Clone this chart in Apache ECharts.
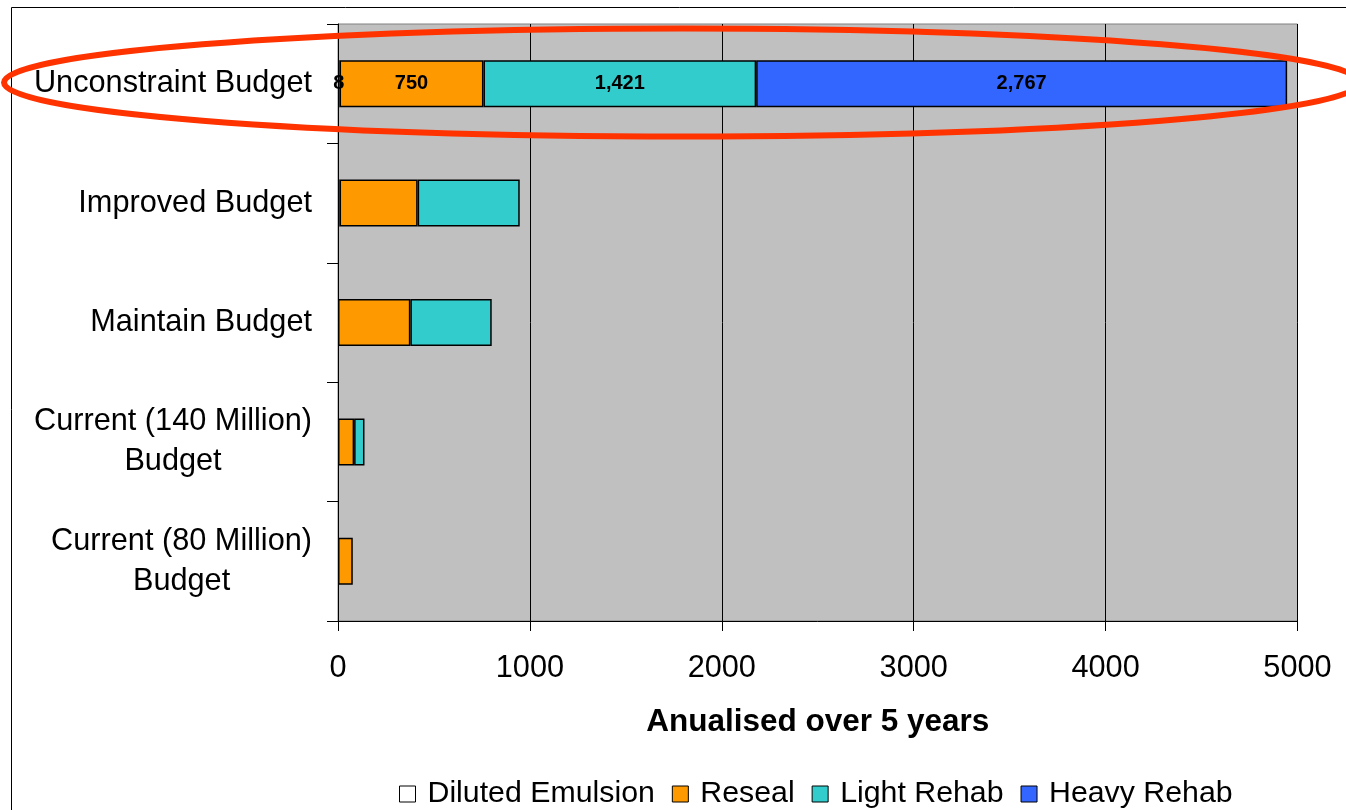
<!DOCTYPE html>
<html>
<head>
<meta charset="utf-8">
<script src="https://cdn.jsdelivr.net/npm/echarts@6/dist/echarts.min.js"></script>
<style>
  html, body { margin: 0; padding: 0; background: #ffffff; }
  #chart { width: 1346px; height: 810px; }
</style>
</head>
<body>
<div id="chart"></div>
<script>
// Budget scenarios, bottom to top on the category axis
const categories = [
  'Current (80 Million)\nBudget',
  'Current (140 Million)\nBudget',
  'Maintain Budget',
  'Improved Budget',
  'Unconstraint Budget'
];
// Treatment spend per scenario (annualised over 5 years)
const dilutedEmulsion = [0, 0, 0, 8, 8];
const reseal = [77, 84, 377, 407, 750];
const lightRehab = [0, 54, 424, 532, 1421];
const heavyRehab = [0, 0, 0, 0, 2767];
const seriesNames = ['Diluted Emulsion', 'Reseal', 'Light Rehab', 'Heavy Rehab'];
const xTicks = [0, 1000, 2000, 3000, 4000, 5000];
const labelledRow = 4; // values are printed on the top scenario only

const FONT = '"Liberation Sans", Arial, Helvetica, sans-serif';
const colors = ['#FFFFFF', '#FF9900', '#33CCCC', '#3366FF'];
const TEXT_SIZE = 30.7;

// Two-line category labels: lines centred on each other, block right-aligned
const rich = {};
categories.forEach(function (c, i) {
  rich['c' + i] = { align: 'center', fontSize: TEXT_SIZE, lineHeight: 40, fontFamily: FONT, color: '#000' };
});

function seriesData(values) {
  return values.map(function (v, i) {
    if (!v) return null;
    return i === labelledRow ? { value: v, label: { show: true } } : v;
  });
}

const allValues = [dilutedEmulsion, reseal, lightRehab, heavyRehab];
const series = allValues.map(function (vals, k) {
  return {
    name: seriesNames[k],
    type: 'bar',
    stack: 'total',
    barWidth: 47,
    data: seriesData(vals),
    itemStyle: { color: colors[k], borderColor: '#000', borderWidth: 1.5 },
    label: {
      show: false,
      position: 'inside',
      color: '#000',
      fontFamily: FONT,
      fontWeight: 'bold',
      fontSize: 20,
      formatter: function (p) { return Number(p.value).toLocaleString('en-US'); }
    },
    emphasis: { disabled: true }
  };
});

const chart = echarts.init(document.getElementById('chart'), null, { renderer: 'canvas' });
chart.setOption({
  animation: false,
  backgroundColor: '#ffffff',
  grid: {
    left: 338, right: 48.5, top: 24, bottom: 189,
    show: true, backgroundColor: '#C0C0C0', borderColor: '#808080', borderWidth: 1
  },
  legend: {
    data: seriesNames,
    left: 394, top: 774,
    icon: 'rect',
    itemWidth: 16, itemHeight: 16, itemGap: 17,
    itemStyle: { borderColor: '#000', borderWidth: 1 },
    textStyle: { fontFamily: FONT, fontSize: 30.3, color: '#000', padding: [0, 0, 0, 7] }
  },
  xAxis: {
    type: 'value',
    min: xTicks[0], max: xTicks[xTicks.length - 1], interval: 1000,
    name: 'Anualised over 5 years',
    nameLocation: 'middle', nameGap: 85,
    nameTextStyle: { fontFamily: FONT, fontSize: 31.5, fontWeight: 'bold', color: '#000' },
    axisLine: { show: true, lineStyle: { color: '#000', width: 1 } },
    axisTick: { show: true, length: 10, lineStyle: { color: '#000' } },
    axisLabel: {
      fontFamily: FONT, fontSize: TEXT_SIZE, color: '#000', margin: 32,
      formatter: function (v) { return String(v); }
    },
    splitLine: { show: true, lineStyle: { color: '#000', width: 1 } }
  },
  yAxis: {
    type: 'category',
    data: categories,
    axisLine: { show: true, lineStyle: { color: '#000', width: 1 } },
    axisTick: { show: true, length: 11, lineStyle: { color: '#000' } },
    axisLabel: {
      fontFamily: FONT, fontSize: TEXT_SIZE, color: '#000', margin: 26, lineHeight: 40,
      formatter: function (val, idx) {
        const lines = val.split('\n');
        if (lines.length === 1) return val;
        return lines.map(function (l) { return '{c' + idx + '|' + l + '}'; }).join('\n');
      },
      rich: rich
    },
    splitLine: { show: false }
  },
  series: series,
  graphic: [
    {
      type: 'rect', silent: true, z: 0,
      shape: { x: 11.5, y: 7.5, width: 1400, height: 900 },
      style: { fill: null, stroke: '#000', lineWidth: 1 }
    },
    {
      type: 'ellipse', silent: true, z: 100,
      shape: { cx: 682, cy: 82.5, rx: 678, ry: 54 },
      style: { fill: null, stroke: '#FF3300', lineWidth: 6 }
    }
  ]
});
</script>
</body>
</html>
